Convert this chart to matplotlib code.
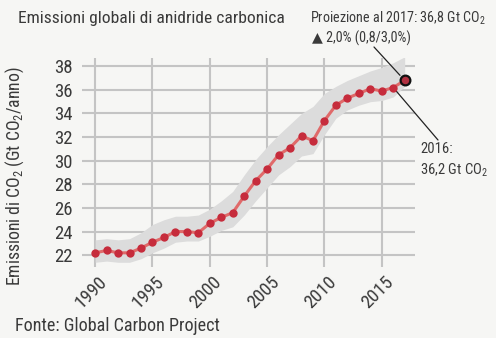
import matplotlib
matplotlib.use("Agg")
import matplotlib.pyplot as plt
import matplotlib.transforms as mtransforms
from matplotlib import font_manager

# annual global CO2 emissions, Gt CO2 per year
years = list(range(1990, 2018))
co2 = [22.2, 22.4, 22.2, 22.2, 22.6, 23.1, 23.5, 24.0, 24.0, 23.9,
       24.7, 25.2, 25.6, 27.0, 28.3, 29.3, 30.5, 31.1, 32.1, 31.7,
       33.4, 34.7, 35.3, 35.7, 36.1, 35.9, 36.2, 36.8]
# uncertainty range around the series
band_low = [21.4, 21.5, 21.4, 21.4, 21.7, 22.2, 22.6, 23.1, 23.2, 23.2,
            23.6, 24.1, 24.4, 25.4, 26.6, 27.7, 28.8, 29.5, 30.4, 30.6,
            32.2, 33.6, 34.3, 34.7, 35.0, 35.1, 35.4, 36.3]
band_high = [23.3, 23.4, 23.3, 23.4, 23.9, 24.6, 25.0, 25.3, 25.3, 25.4,
             25.9, 26.6, 27.4, 28.8, 30.1, 31.2, 32.2, 33.1, 34.0, 34.6,
             35.7, 36.3, 36.8, 37.2, 37.6, 37.9, 38.3, 38.8]
yticks = [22, 24, 26, 28, 30, 32, 34, 36, 38]
xticks = [1990, 1995, 2000, 2005, 2010, 2015]

# pick a narrow sans if one is installed
names = {f.name for f in font_manager.fontManager.ttflist}
narrow = 'DejaVu Sans'
for cand in ['Liberation Sans Narrow', 'Roboto Condensed', 'DejaVu Sans Condensed']:
    if cand in names:
        narrow = cand
        break
plt.rcParams['font.family'] = [narrow, 'DejaVu Sans']
plt.rcParams['mathtext.fontset'] = 'custom'
plt.rcParams['mathtext.rm'] = narrow
plt.rcParams['mathtext.it'] = narrow
plt.rcParams['mathtext.bf'] = narrow

bg = '#f6f6f4'
txt = '#3a3a3a'
grid = '#c4c4c4'

fig = plt.figure(figsize=(4.96, 3.38), dpi=100, facecolor=bg)
ax = fig.add_axes([82/496, 1 - 267/338, 333/496, 209/338], facecolor=bg)

ax.set_xlim(1988.85, 2017.9)
ax.set_ylim(21.0, 38.7)

for s in ax.spines.values():
    s.set_visible(False)
ax.set_xticks(xticks)
ax.set_yticks(yticks)
ax.grid(True, color=grid, lw=1.5)
ax.set_axisbelow(True)
ax.tick_params(length=0, labelsize=13.5, labelcolor=txt)
ax.tick_params(axis='y', pad=7)
ax.tick_params(axis='x', pad=4)
for lab in ax.get_xticklabels():
    lab.set_rotation(45)
    lab.set_ha('right')
    lab.set_va('top')
    lab.set_rotation_mode('anchor')
    lab.set_transform(lab.get_transform() +
                      mtransforms.ScaledTranslation(3/100, 0, fig.dpi_scale_trans))

ax.fill_between(years, band_low, band_high, color='#dcdcdc', lw=0, zorder=2)
ax.plot(years, co2, color='#e06a6a', lw=2.2, zorder=3)
ax.plot(years[:-1], co2[:-1], 'o', color='#c62c3c', ms=6, mec='none', zorder=4)
ax.plot(years[-1], co2[-1], 'o', color='#b03040', ms=7, mec='#111111', mew=1.6, zorder=5)

ax.set_ylabel(r'Emissioni di CO$_2$ (Gt CO$_2$/anno)', fontsize=12.7, color=txt)
ax.yaxis.set_label_coords(-56/333, 0.435)

fig.text(18/496, 1 - 18/338, 'Emissioni globali di anidride carbonica',
         fontsize=12.6, color=txt, va='center', ha='left')
fig.text(310/496, 1 - 18/338, 'Proiezione al 2017: 36,8 Gt CO$_2$',
         fontsize=10.2, color=txt, va='center', ha='left')
fig.text(312/496, 1 - 38/338, '\u25b2 2,0% (0,8/3,0%)',
         fontsize=10.2, color=txt, va='center', ha='left')
fig.text(15/496, 1 - 326/338, 'Fonte: Global Carbon Project',
         fontsize=13.1, color=txt, va='center', ha='left')

# leader lines for the projection and the 2016 value
ax.annotate('', xy=(years[-1], co2[-1]), xycoords='data',
            xytext=(374/496, 1 - 47/338), textcoords='figure fraction',
            arrowprops=dict(arrowstyle='-', color='#222222', lw=0.9,
                            shrinkA=0, shrinkB=5))
ax.annotate('', xy=(years[-2], co2[-2]), xycoords='data',
            xytext=(438/496, 1 - 140/338), textcoords='figure fraction',
            arrowprops=dict(arrowstyle='-', color='#222222', lw=0.9,
                            shrinkA=0, shrinkB=3))
fig.text(420/496, 1 - 149/338, '2016:', fontsize=10.5, color=txt,
         va='center', ha='left')
fig.text(420/496, 1 - 170/338, '36,2 Gt CO$_2$', fontsize=10.5, color=txt,
         va='center', ha='left')

fig.savefig('out.png', dpi=100, facecolor=bg)
